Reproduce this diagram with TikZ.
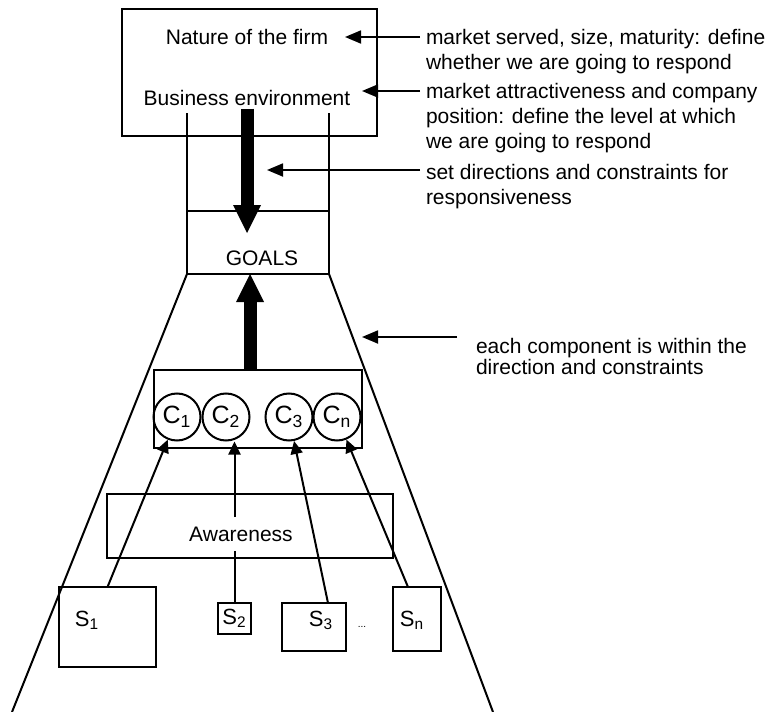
\documentclass[tikz,border=0pt]{standalone}
\usepackage{fontspec}
\setmainfont{Liberation Sans}
\usetikzlibrary{arrows.meta,positioning}

\begin{document}
\begin{tikzpicture}[
x=0.5pt, y=-0.5pt,
box/.style={draw, line width=1.1pt, inner sep=0pt, outer sep=0pt},
lbl/.style={inner sep=1pt, font=\fontsize{10.5}{12.5}\selectfont},
note/.style={anchor=north west, align=left, inner sep=0pt,
	font=\fontsize{10.5}{12.5}\selectfont},
comp/.style={draw, circle, line width=1pt, minimum size=23.5pt,
	inner sep=0pt, font=\fontsize{12.5}{14}\selectfont},
src/.style={anchor=base, inner sep=0pt, font=\fontsize{11}{13}\selectfont},
arr/.style={-{Triangle[length=8pt,width=6.5pt]}, line width=0.9pt},
small/.style={-{Triangle[length=6.5pt,width=6pt]}, line width=1pt},
big/.style={-{Triangle[length=14pt,width=14pt,line width=0pt]}, line width=6.5pt},
line width=1pt
]
\useasboundingbox (0,0) rectangle (767,712);

\node[box, line width=1.4pt, minimum width=127.5pt, minimum height=63.5pt] (firm) at (249.5,72.5) {};
\node[lbl] (nature) at (247,37) {Nature of the firm};
\node[lbl] (busenv) at (247,98) {Business environment};

\node[box, minimum width=71pt, minimum height=31.5pt] (goalbox) at (258,242.5) {};
\node[lbl] (goals) at (262,258) {GOALS};
\coordinate (chanl) at (187,113);
\coordinate (chanr) at (329,113);
\draw (chanl) -- (goalbox.south west);
\draw (chanr) -- (goalbox.south east);
\coordinate (trapl) at (12,712);
\coordinate (trapr) at (493,712);
\draw (goalbox.south west) -- (trapl);
\draw (goalbox.south east) -- (trapr);

\coordinate (downtip) at (248,233);
\draw[big] (busenv.south) -- (busenv.south |- downtip);

\node[box, minimum width=104pt, minimum height=39pt] (cbox) at (258,409) {};
\foreach \n/\x/\s in {c1/177/1, c2/226/2, c3/289/3, cn/337/n}
	\node[comp] (\n) at (\x,417) {C\textsubscript{\s}};
\draw[big] ([xshift=-4pt]cbox.north) -- ([xshift=-4pt]goalbox.south);

\node[box, minimum width=143pt, minimum height=32pt] (awbox) at (250,526) {};
\node[lbl, minimum height=16pt] (aware) at (241,534) {Awareness};

\node[box, minimum width=48.5pt, minimum height=40pt] (s1box) at (107.5,627) {};
\node[src] (s1) at (87,626) {S\textsubscript{1}};
\node[box, minimum width=16.5pt, minimum height=15.5pt, font=\fontsize{11}{13}\selectfont] (s2) at (234.5,618.5) {S\textsubscript{2}};
\node[box, minimum width=32pt, minimum height=24pt] (s3box) at (314,627) {};
\node[src] (s3) at (321,626) {S\textsubscript{3}};
\node[inner sep=0pt, font=\fontsize{5}{6}\selectfont] (dots) at (362,627) {...};
\node[box, minimum width=24pt, minimum height=32pt] (snbox) at (417,619) {};
\node[src] (sn) at (412,626) {S\textsubscript{n}};

\draw[small] (s1box.north) -- (c1);
\draw (s2.north) -- (s2.north |- aware.south);
\draw[small] (s2.north |- aware.north) -- (s2.north |- c2.south);
\draw[small] ([xshift=7pt]s3box.north) -- (c3);
\draw[small] ([xshift=-4.5pt]snbox.north) -- (cn);

\node[note] (note1) at (425,28) {market served, size, maturity: define\\whether we are going to respond};
\node[note] (note2) at (425,82) {market attractiveness and company\\position: define the level at which\\we are going to respond};
\node[note] (note3) at (425,163) {set directions and constraints for\\responsiveness};
\node[note] (note4) at (475,337) {each component is within the\\[-2pt]direction and constraints};

\coordinate (tip1) at (345,37);
\coordinate (tip2) at (362,91);
\coordinate (tip3) at (267,170);
\coordinate (tip4) at (362,337);
\draw[arr, shorten <=2.5pt] (note1.north west |- tip1) -- (tip1);
\draw[arr, shorten <=2.5pt] (note2.north west |- tip2) -- (tip2);
\draw[arr, shorten <=2.5pt] (note3.north west |- tip3) -- (tip3);
\draw[arr, shorten <=9pt] (note4.north west |- tip4) -- (tip4);
\end{tikzpicture}
\end{document}
